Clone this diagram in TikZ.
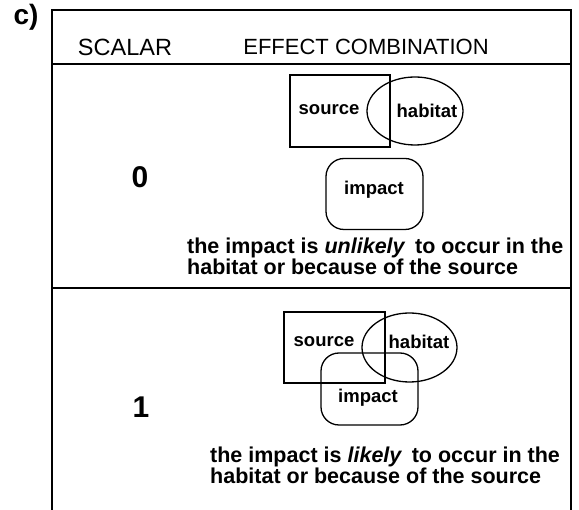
\documentclass[tikz,border=0pt]{standalone}
\usepackage{fontspec}
\setmainfont{Liberation Sans}
\usetikzlibrary{shapes,positioning}

\begin{document}
\begin{tikzpicture}[x=1pt, y=-1pt,
    frameline/.style={line width=1.6pt, black},
    srcbox/.style={rectangle, draw, line width=1.3pt, minimum width=100pt, minimum height=72pt, inner sep=0pt},
    habshape/.style={ellipse, draw, line width=1.3pt, minimum width=96pt, minimum height=68pt, inner sep=0pt},
    impshape/.style={rectangle, rounded corners=18pt, draw, line width=1.3pt, minimum width=97pt, minimum height=71pt, inner sep=0pt},
    lbl/.style={inner sep=0pt, font=\fontsize{18.5}{19}\selectfont\bfseries},
    head/.style={inner sep=0pt, font=\fontsize{22}{22}\selectfont},
    scal/.style={inner sep=0pt, font=\fontsize{30}{30}\selectfont\bfseries},
    desc/.style={inner sep=0pt, anchor=north west, align=left, font=\fontsize{21.5}{20.5}\selectfont\bfseries}
]
\useasboundingbox (0,0) rectangle (579,510);

% Draw table frame
\coordinate (tl) at (52,10);
\coordinate (tr) at (571,10);
\coordinate (bl) at (52,510);
\coordinate (br) at (571,510);
\coordinate (hl) at (52,64);
\coordinate (hr) at (571,64);
\coordinate (ml) at (52,288);
\coordinate (mr) at (571,288);
\draw[frameline] (bl) -- (tl) -- (tr) -- (br);
\draw[frameline] (hl) -- (hr);
\draw[frameline] (ml) -- (mr);

\node[inner sep=0pt, font=\fontsize{28}{28}\selectfont\bfseries] (tag) at (26,17) {c)};

% Draw headers
\node[head, font=\fontsize{23.5}{23.5}\selectfont] (scalar) at (125,47) {SCALAR};
\node[head] (effect) at (366,47) {EFFECT COMBINATION};

% Row for scalar 0
\node[scal] (zero) at (140,177) {0};
\node[srcbox] (src0) at (340,111) {};
\node[habshape] (hab0) at (415,111) {};
\node[impshape] (imp0) at (374.5,194) {};
\node[lbl] (srclbl0) at (329,110) {source};
\node[lbl] (hablbl0) at (427,111) {habitat};
\node[lbl] (implbl0) at (374,190) {impact};
\node[desc] (desc0) at (187,238) {the impact is \textit{unlikely}\, to occur in the\\habitat or because of the source};

% Row for scalar 1
\node[scal] (one) at (141,407) {1};
\node[srcbox, minimum width=101pt, minimum height=71pt] (src1) at (334.5,347.5) {};
\node[habshape, minimum width=95pt, minimum height=69pt] (hab1) at (409.5,347.5) {};
\node[impshape, minimum height=72pt] (imp1) at (369.5,389) {};
\node[lbl] (srclbl1) at (324,342) {source};
\node[lbl] (hablbl1) at (419,342) {habitat};
\node[lbl] (implbl1) at (368,398) {impact};
\node[desc] (desc1) at (210,447) {the impact is \textit{likely}\, to occur in the\\habitat or because of the source};

\end{tikzpicture}
\end{document}
